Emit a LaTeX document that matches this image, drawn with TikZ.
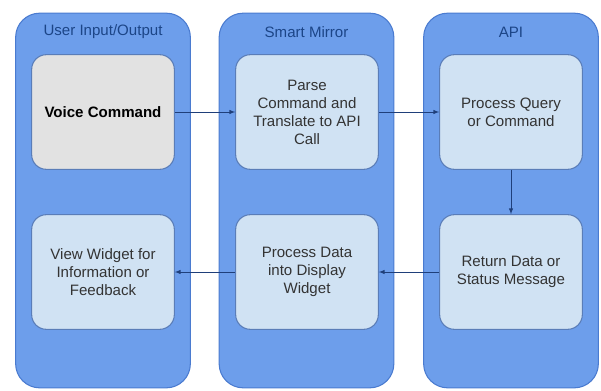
\documentclass[tikz,border=0pt]{standalone}
\usepackage{fontspec}
\setmainfont{Liberation Sans}
\usepackage{xcolor}
\definecolor{lanefill}{HTML}{6D9EEB}
\definecolor{laneborder}{HTML}{4A7BD0}
\definecolor{boxfill}{HTML}{D0E2F3}
\definecolor{boxborder}{HTML}{5A7DB8}
\definecolor{greyfill}{HTML}{E2E2E2}
\definecolor{titleblue}{HTML}{1C4587}
\definecolor{arrowblue}{HTML}{1F3F7A}
\definecolor{textgrey}{HTML}{333333}

\begin{document}
\begin{tikzpicture}[
    x=0.75pt, y=-0.75pt,
    every node/.style={align=center, font=\fontsize{11.3}{13.5}\selectfont},
    lane/.style={rectangle, rounded corners=18pt, draw=laneborder, line width=0.8pt, fill=lanefill, minimum width=131pt, minimum height=281pt},
    title/.style={text=titleblue},
    state/.style={rectangle, rounded corners=11pt, draw=boxborder, line width=0.8pt, fill=boxfill, text=textgrey, minimum width=107pt, minimum height=86pt},
    arrow/.style={->, >=latex, draw=arrowblue, line width=0.5pt}
]
\useasboundingbox (0,0) rectangle (601,390);

% Lanes
\node[lane] (user) at (103, 200.5) {};
\node[lane] (mirror) at (306.5, 200.5) {};
\node[lane] (api) at (511, 200.5) {};
\node[title] at (103, 32) {User Input/Output};
\node[title] at (306.5, 32) {Smart Mirror};
\node[title] at (511, 32) {API};

% Request path
\node[state, fill=greyfill, text=black] (voice) at (103, 112) {\bfseries Voice Command};
\node[state] (parse) at (307, 112) {Parse\\Command and\\Translate to API\\Call};
\node[state] (query) at (511, 112) {Process Query\\or Command};

% Response path
\node[state] (ret) at (511, 272) {Return Data or\\Status Message};
\node[state] (widget) at (307, 272) {Process Data\\into Display\\Widget};
\node[state] (view) at (103, 272) {View Widget for\\Information or\\Feedback};

\draw[arrow] (voice) -- (parse);
\draw[arrow] (parse) -- (query);
\draw[arrow] (query) -- (ret);
\draw[arrow] (ret) -- (widget);
\draw[arrow] (widget) -- (view);

\end{tikzpicture}
\end{document}
